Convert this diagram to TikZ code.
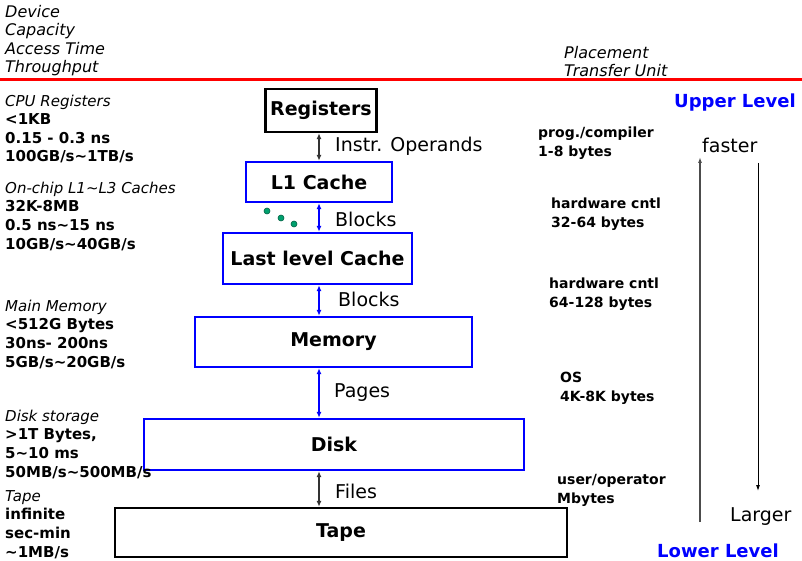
\documentclass[tikz,border=0pt]{standalone}
\usepackage{fontspec}
\setmainfont{DejaVu Sans}
\usetikzlibrary{arrows.meta}
\definecolor{lvlblue}{RGB}{0,0,255}
\definecolor{dotgreen}{RGB}{0,160,110}
\tikzset{
  level/.style={draw=lvlblue, line width=2.4pt, inner sep=0pt, font=\fontsize{19}{22}\selectfont\bfseries},
  endlevel/.style={level, draw=black},
  spec/.style={anchor=base west, align=left, inner sep=0pt, font=\fontsize{15}{18.6}\selectfont\bfseries},
  head/.style={spec, font=\fontsize{16}{18.5}\selectfont\itshape},
  unit/.style={anchor=base west, align=left, inner sep=0pt, font=\fontsize{14}{19}\selectfont\bfseries},
  xfer/.style={anchor=base west, inner sep=0pt, font=\fontsize{19}{22}\selectfont},
  link/.style={{Latex[length=6pt,width=5pt]}-{Latex[length=6pt,width=5pt]}, line width=1.2pt, draw=lvlblue},
}
\begin{document}
\begin{tikzpicture}[x=1pt,y=-1pt]
\useasboundingbox (0,0) rectangle (802,561);
% column titles (base = last line)
\node[head] (hdev) at (5,73) {Device\\Capacity\\Access Time\\Throughput};
\node[head] (hplace) at (564,77) {Placement\\Transfer Unit};
\draw[red, line width=3.2pt] (0,79.5) -- (802,79.5);
% hierarchy levels
\node[endlevel, minimum width=111pt, minimum height=43pt] (reg) at (321,110.5) {Registers};
\node[level, minimum width=146pt, minimum height=40pt] (l1) at (319,182) {L1 Cache};
\node[level, minimum width=189pt, minimum height=51pt] (llc) at (317.5,258.5) {Last level Cache};
\node[level, minimum width=277pt, minimum height=50pt] (mem) at (333.5,342) {Memory};
\node[level, minimum width=380pt, minimum height=51pt] (disk) at (334,444.5) {Disk};
\node[endlevel, minimum width=452pt, minimum height=49pt] (tape) at (341,532.5) {Tape};
% transfers
\coordinate (ax) at (319,0);
\draw[link, draw=black!80] (reg.south -| ax) -- (l1.north -| ax);
\draw[link] (l1.south -| ax) -- (llc.north -| ax);
\draw[link] (llc.south -| ax) -- (mem.north -| ax);
\draw[link] (mem.south -| ax) -- (disk.north -| ax);
\draw[link, draw=black!80] (disk.south -| ax) -- (tape.north -| ax);
\node[xfer] (t1) at (335,152) {Instr. Operands};
\node[xfer] (t2) at (335,226) {Blocks};
\node[xfer] (t3) at (338,306) {Blocks};
\node[xfer] (t4) at (334,397) {Pages};
\node[xfer] (t5) at (335,498) {Files};
\foreach \x/\y in {267/211, 281/218, 294/224}
  \filldraw[fill=dotgreen, draw=dotgreen!60!black, line width=0.6pt] (\x,\y) circle (3pt);
% device data (base = last line)
\node[spec] (s1) at (5,162) {{\mdseries\itshape CPU Registers}\\<1KB\\0.15 - 0.3 ns\\100GB/s\textasciitilde1TB/s};
\node[spec] (s2) at (5,249) {{\mdseries\itshape On-chip L1\textasciitilde L3 Caches}\\32K-8MB\\0.5 ns\textasciitilde15 ns\\10GB/s\textasciitilde40GB/s};
\node[spec] (s3) at (5,367) {{\mdseries\itshape Main Memory}\\<512G Bytes\\30ns- 200ns\\5GB/s\textasciitilde20GB/s};
\node[spec] (s4) at (5,477) {{\mdseries\itshape Disk storage}\\>1T Bytes,\\5\textasciitilde10 ms\\50MB/s\textasciitilde500MB/s};
\node[spec] (s5) at (5,557) {{\mdseries\itshape Tape}\\infinite\\sec-min\\\textasciitilde1MB/s};
% placement / unit
\node[unit] (u1) at (538,157) {prog./compiler\\1-8 bytes};
\node[unit] (u2) at (551,228) {hardware cntl\\32-64 bytes};
\node[unit] (u3) at (549,307) {hardware cntl\\64-128 bytes};
\node[unit] (u4) at (560,401) {OS\\4K-8K bytes};
\node[unit] (u5) at (557,503) {user/operator\\Mbytes};
% trends
\node[xfer, font=\fontsize{18}{22}\selectfont\bfseries, text=lvlblue] (up) at (674,108) {Upper Level};
\node[xfer, font=\fontsize{18}{22}\selectfont\bfseries, text=lvlblue] (low) at (657,557) {Lower Level};
\node[xfer] (fast) at (702,153) {faster};
\node[xfer] (large) at (730,521) {Larger};
\coordinate (fbot) at (700,522);
\coordinate (ftop) at (700,157);
\coordinate (ltop) at (758,163);
\coordinate (lbot) at (758,491);
\draw[-{Latex[length=6pt,width=4pt]}, black!70, line width=1.2pt] (fbot) -- (ftop);
\draw[-{Latex[length=6pt,width=4pt]}, line width=0.9pt] (ltop) -- (lbot);
\end{tikzpicture}
\end{document}
